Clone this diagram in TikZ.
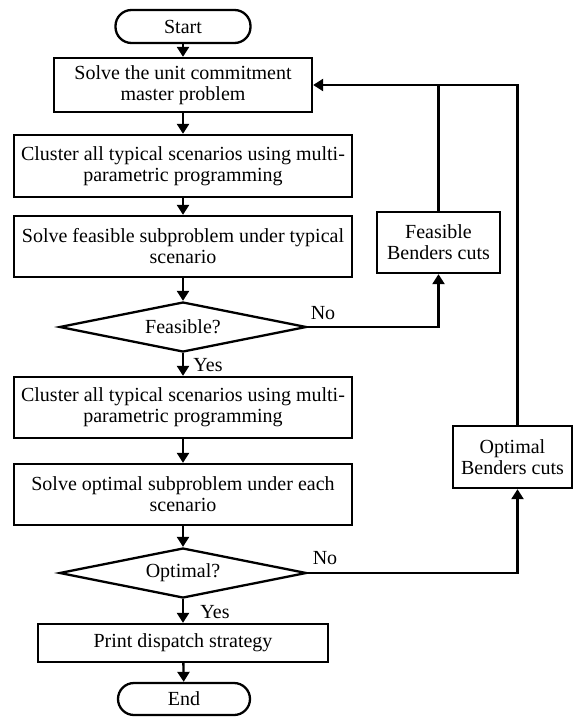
\documentclass[tikz,border=0pt]{standalone}
\usepackage{fontspec}
\setmainfont{Liberation Serif}
\usetikzlibrary{arrows.meta,shapes.geometric}
\begin{document}
\begin{tikzpicture}[x=1pt,y=-1pt,
  every node/.style={font=\fontsize{20}{21}\selectfont},
  box/.style={draw, line width=2.3pt, rectangle, inner sep=0pt, align=center},
  term/.style={box, rounded corners=16pt},
  dec/.style={draw, line width=2.3pt, diamond, aspect=5, inner sep=0pt, minimum width=247pt, minimum height=50pt},
  wire/.style={line width=2.3pt},
  conn/.style={wire, -{Triangle[length=10pt,width=12pt]}},
  lbl/.style={inner sep=0pt}
]
\useasboundingbox (0,0) rectangle (574,717);
\node[term, minimum width=135pt, minimum height=33pt] (start) at (183,26.5) {Start};
\node[box, minimum width=258pt, minimum height=54pt] (master) at (183,85) {Solve the unit commitment\\master problem};
\node[box, minimum width=338pt, minimum height=62pt] (cl1) at (183,166) {Cluster all typical scenarios using multi-\\parametric programming};
\node[box, minimum width=338pt, minimum height=61pt] (sf) at (183,246.5) {Solve feasible subproblem under typical\\scenario};
\node[dec] (feas) at (183,327) {Feasible?};
\node[box, minimum width=338pt, minimum height=61pt] (cl2) at (183,407.5) {Cluster all typical scenarios using multi-\\parametric programming};
\node[box, minimum width=338pt, minimum height=61pt] (so) at (183,494.5) {Solve optimal subproblem under each\\scenario};
\node[dec] (opt) at (183,573) {Optimal?};
\node[box, minimum width=290pt, minimum height=38pt] (print) at (183,643) {Print dispatch strategy};
\node[term, minimum width=132pt, minimum height=32pt] (end) at (184,699) {End};
\node[box, minimum width=123pt, minimum height=61pt] (fc) at (438.5,242.5) {Feasible\\Benders cuts};
\node[box, minimum width=119pt, minimum height=62pt] (oc) at (512.5,457) {Optimal\\Benders cuts};

\node[lbl] (no1) at (323,313) {No};
\node[lbl] (no2) at (325,558) {No};
\node[lbl] (yes1) at (208,365) {Yes};
\node[lbl] (yes2) at (215,612) {Yes};

\draw[conn] (start) -- (master);
\draw[conn] (master) -- (cl1);
\draw[conn] (cl1) -- (sf);
\draw[conn] (sf) -- (feas);
\draw[conn] (feas) -- (cl2);
\draw[conn] (cl2) -- (so);
\draw[conn] (so) -- (opt);
\draw[conn] (opt) -- (print);
\draw[conn] (print) -- (end);
\draw[conn] (feas.east) -| (fc.south);
\draw[conn] (opt.east) -| ([xshift=5pt]oc.south);
\draw[conn] ([xshift=5pt]oc.north) |- (master.east);
\draw[wire] (fc.north) -- (fc.north |- master.east);
\end{tikzpicture}
\end{document}
